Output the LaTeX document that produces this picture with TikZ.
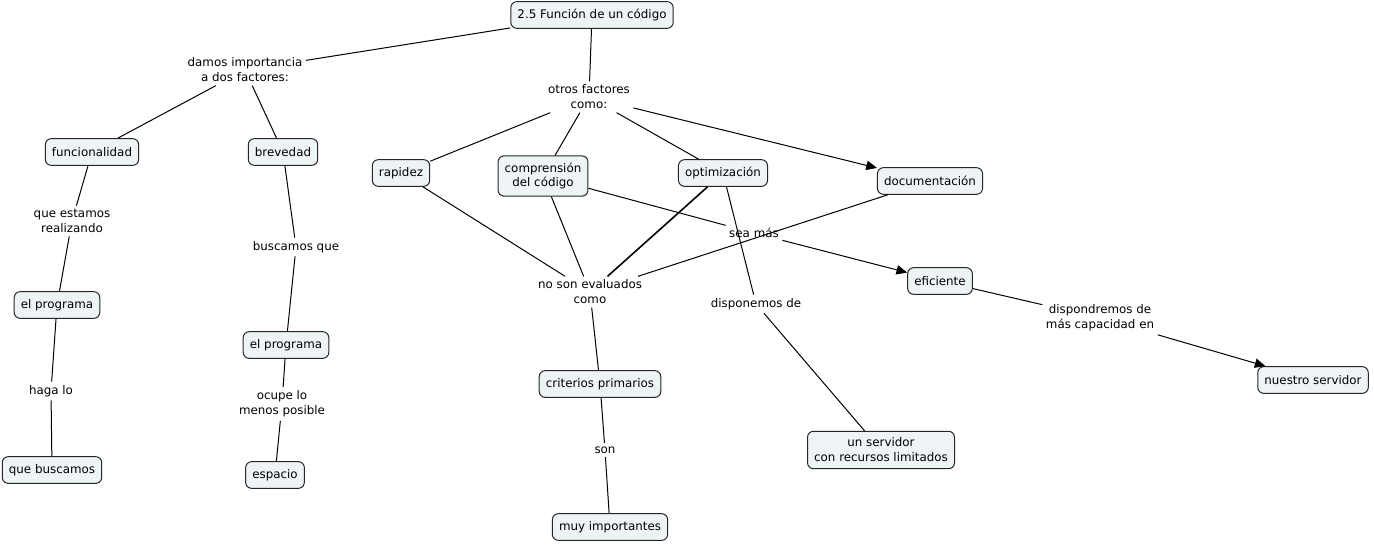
\documentclass[tikz,border=0pt]{standalone}
\usepackage{fontspec}
\setmainfont{DejaVu Sans}
\usetikzlibrary{arrows.meta}
\definecolor{conceptfill}{HTML}{EEF3F5}
\begin{document}
\begin{tikzpicture}[x=0.75pt,y=-0.75pt,
  font=\fontsize{8.9}{11.2}\selectfont,
  concept/.style={draw=black!85,fill=conceptfill,rounded corners=4.5pt,line width=0.75pt,
     align=center,inner xsep=5pt,inner ysep=5pt,minimum height=20pt},
  linkphrase/.style={align=center,inner sep=2.5pt},
  conn/.style={draw=black,line width=0.75pt},
  arr/.style={conn,-{Triangle[length=8pt,width=7pt]}}]
\useasboundingbox (0,0) rectangle (1374,544);
% concepts
\node[concept] (title) at (592,15) {2.5 Función de un código};
\node[concept] (func) at (92,152) {funcionalidad};
\node[concept] (brev) at (283,152) {brevedad};
\node[concept] (rap) at (401,173) {rapidez};
\node[concept] (comp) at (543,176) {comprensión\\del código};
\node[concept] (opt) at (723,173) {optimización};
\node[concept] (doc) at (930,181) {documentación};
\node[concept] (efi) at (940,281) {eficiente};
\node[concept] (nserv) at (1313,380) {nuestro servidor};
\node[concept] (prog1) at (57,305) {el programa};
\node[concept] (prog2) at (286,345) {el programa};
\node[concept] (qbus) at (52,470) {que buscamos};
\node[concept] (esp) at (275,475) {espacio};
\node[concept] (crit) at (600,384) {criterios primarios};
\node[concept] (muy) at (610,527) {muy importantes};
\node[concept] (userv) at (881,450) {un servidor\\con recursos limitados};
% linking phrases
\node[linkphrase] (damos) at (245,70) {damos importancia\\a dos factores:};
\node[linkphrase] (otros) at (589,97) {otros factores\\como:};
\node[linkphrase] (seamas) at (754,233) {sea más};
\node[linkphrase] (noson) at (590,292) {no son evaluados\\como};
\node[linkphrase] (dispon) at (756,304) {disponemos de};
\node[linkphrase] (dispondr) at (1100,318) {dispondremos de\\más capacidad en};
\node[linkphrase] (queest) at (72,221) {que estamos\\realizando};
\node[linkphrase] (buscq) at (296,247) {buscamos que};
\node[linkphrase] (haga) at (51,391) {haga lo};
\node[linkphrase] (ocupe) at (282,404) {ocupe lo\\menos posible};
\node[linkphrase] (son) at (605,450) {son};
% connectors
\draw[conn] (title) -- (damos);
\draw[conn] (damos) -- (func);
\draw[conn] (damos) -- (brev);
\draw[conn] (title) -- (otros);
\draw[conn] (otros) -- (rap);
\draw[conn] (otros) -- (comp);
\draw[conn] (otros) -- (opt);
\draw[arr] (otros) -- (doc);
\draw[conn] (func) -- (queest);
\draw[conn] (queest) -- (prog1);
\draw[conn] (prog1) -- (haga);
\draw[conn] (haga) -- (qbus);
\draw[conn] (brev) -- (buscq);
\draw[conn] (buscq) -- (prog2);
\draw[conn] (prog2) -- (ocupe);
\draw[conn] (ocupe) -- (esp);
\draw[conn] (rap) -- (noson);
\draw[conn] (comp) -- (noson);
\draw[conn,line width=1.2pt] (opt) -- (noson);
\draw[conn] (doc) -- (noson);
\draw[conn] (noson) -- (crit);
\draw[conn] (crit) -- (son);
\draw[conn] (son) -- (muy);
\draw[conn] (comp) -- (seamas);
\draw[arr] (seamas) -- (efi);
\draw[conn] (opt) -- (dispon);
\draw[conn] (dispon) -- (userv);
\draw[conn] (efi) -- (dispondr);
\draw[arr] (dispondr) -- (nserv);
\end{tikzpicture}
\end{document}
